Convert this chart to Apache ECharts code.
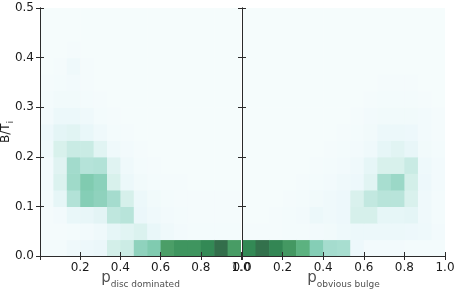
<!DOCTYPE html>
<html>
<head>
<meta charset="utf-8">
<script src="https://cdn.jsdelivr.net/npm/echarts@6/dist/echarts.min.js"></script>
<style>html,body{margin:0;padding:0;background:#fff}#c{width:455px;height:290px}</style>
</head>
<body>
<div id="c"></div>
<script>
// 2D histogram: 15 x-bins over [0,1], 15 y-bins over [0,0.5]; rows listed from bottom (B/T=0) upward
const xRange = [0, 1];
const yRange = [0, 0.5];
const nBinsX = 15;
const nBinsY = 15;
const xTickLabels = ['0.0', '0.2', '0.4', '0.6', '0.8', '1.0'];
const yTickLabels = ['0.0', '0.1', '0.2', '0.3', '0.4', '0.5'];

// relative density (colour scale 0..100), panel 1: p_disc dominated
const discRows = [
  [5, 5, 8, 10, 12, 26, 28, 47, 52, 77, 82, 82, 88, 98, 78],
  [4, 4, 5, 6, 8, 15, 18, 22, 13, 8, 6, 5, 5, 5, 5],
  [4, 6, 13, 14, 17, 32, 34, 12, 8, 6, 5, 4, 4, 4, 4],
  [5, 15, 36, 50, 47, 40, 25, 11, 7, 5, 4, 4, 4, 4, 4],
  [6, 22, 42, 52, 48, 24, 11, 7, 5, 4, 4, 3, 3, 3, 3],
  [6, 19, 41, 35, 36, 19, 8, 5, 4, 3, 3, 3, 3, 3, 3],
  [8, 24, 29, 29, 18, 8, 6, 4, 3, 3, 3, 3, 3, 3, 3],
  [10, 16, 18, 13, 8, 5, 4, 3, 3, 3, 3, 3, 3, 3, 3],
  [6, 11, 11, 8, 5, 4, 3, 3, 3, 3, 3, 3, 3, 3, 3],
  [5, 7, 7, 5, 4, 3, 3, 3, 3, 3, 3, 3, 3, 3, 3],
  [4, 5, 6, 4, 3, 3, 3, 3, 3, 3, 3, 3, 3, 3, 3],
  [3, 4, 8, 4, 3, 3, 3, 3, 3, 3, 3, 3, 3, 3, 3],
  [3, 3, 4, 3, 3, 3, 3, 3, 3, 3, 3, 3, 3, 3, 3],
  [3, 3, 3, 3, 3, 3, 3, 3, 3, 3, 3, 3, 3, 3, 3],
  [3, 3, 3, 3, 3, 3, 3, 3, 3, 3, 3, 3, 3, 3, 3]
];

// panel 2: p_obvious bulge
const bulgeRows = [
  [88, 97, 89, 80, 68, 50, 40, 39, 10, 6, 6, 6, 5, 5, 5],
  [4, 4, 4, 5, 5, 6, 7, 9, 11, 11, 11, 11, 10, 9, 6],
  [3, 3, 4, 5, 6, 11, 8, 10, 25, 25, 15, 15, 16, 8, 5],
  [3, 3, 3, 4, 5, 7, 8, 10, 23, 31, 34, 34, 23, 8, 5],
  [3, 3, 3, 3, 4, 5, 6, 8, 10, 18, 39, 43, 26, 10, 6],
  [3, 3, 3, 3, 3, 4, 5, 6, 8, 15, 24, 24, 29, 9, 6],
  [3, 3, 3, 3, 3, 3, 4, 5, 6, 8, 15, 18, 14, 7, 5],
  [3, 3, 3, 3, 3, 3, 3, 4, 5, 7, 11, 11, 10, 6, 4],
  [3, 3, 3, 3, 3, 3, 3, 3, 4, 6, 7, 7, 7, 6, 4],
  [3, 3, 3, 3, 3, 3, 3, 3, 3, 4, 5, 5, 5, 4, 3],
  [3, 3, 3, 3, 3, 3, 3, 3, 3, 3, 4, 4, 4, 3, 3],
  [3, 3, 3, 3, 3, 3, 3, 3, 3, 3, 3, 3, 3, 3, 3],
  [3, 3, 3, 3, 3, 3, 3, 3, 3, 3, 3, 3, 3, 3, 3],
  [3, 3, 3, 3, 3, 3, 3, 3, 3, 3, 3, 3, 3, 3, 3],
  [3, 3, 3, 3, 3, 3, 3, 3, 3, 3, 3, 3, 3, 3, 3]
];

const dx = (xRange[1] - xRange[0]) / nBinsX;
const dy = (yRange[1] - yRange[0]) / nBinsY;

function toCells(rows) {
  const out = [];
  rows.forEach((row, j) => row.forEach((v, i) => {
    out.push([xRange[0] + i * dx, yRange[0] + j * dy, v]);
  }));
  return out;
}

function renderCell(params, api) {
  const p0 = api.coord([api.value(0), api.value(1)]);
  const p1 = api.coord([api.value(0) + dx, api.value(1) + dy]);
  return {
    type: 'rect',
    shape: { x: p0[0], y: p1[1], width: p1[0] - p0[0] + 0.6, height: p0[1] - p1[1] + 0.6 },
    style: { fill: api.visual('color') }
  };
}

const FONT = 'DejaVu Sans';
const axisLine = { show: true, lineStyle: { color: '#2b2b2b', width: 1 } };
const tick = { show: true, inside: true, length: 4, lineStyle: { color: '#2b2b2b', width: 1 } };
const fmt = v => v.toFixed(1);

function xAx(grid, pos, labels, name, hideMin) {
  return {
    type: 'value', gridIndex: grid, position: pos, min: xRange[0], max: xRange[1], interval: 0.2,
    axisLine, axisTick: tick, splitLine: { show: false }, z: 10,
    axisLabel: { show: labels, formatter: fmt, color: '#1a1a1a', fontFamily: FONT, fontSize: 12, margin: 6,
      showMinLabel: !hideMin, showMaxLabel: true },
    name: name || '', nameLocation: 'middle', nameGap: 15, nameMoveOverlap: false,
    nameTextStyle: { rich: {
      p: { fontFamily: FONT, fontSize: 15, color: '#505050', verticalAlign: 'bottom' },
      s: { fontFamily: FONT, fontSize: 9, color: '#505050', verticalAlign: 'bottom', padding: [0, 0, -3, 0] }
    } }
  };
}
function yAx(grid, pos, labels, name) {
  return {
    type: 'value', gridIndex: grid, position: pos, min: yRange[0], max: yRange[1], interval: 0.1,
    axisLine, axisTick: tick, splitLine: { show: false }, z: 10,
    axisLabel: { show: labels, formatter: fmt, color: '#1a1a1a', fontFamily: FONT, fontSize: 12, margin: 6 },
    name: name || '', nameLocation: 'middle', nameGap: 28, nameRotate: 90, nameMoveOverlap: false,
    nameTextStyle: { rich: {
      a: { fontFamily: FONT, fontSize: 12, color: '#1a1a1a', verticalAlign: 'bottom' },
      b: { fontFamily: FONT, fontSize: 8, color: '#1a1a1a', verticalAlign: 'bottom', padding: [0, 0, -3, 0] }
    } }
  };
}

const chart = echarts.init(document.getElementById('c'), null, { renderer: 'canvas' });
chart.setOption({
  backgroundColor: '#ffffff',
  animation: false,
  grid: [
    { left: 40, top: 8, width: 201, height: 248, containLabel: false, outerBoundsMode: 'none' },
    { left: 242, top: 8, width: 203, height: 248, containLabel: false, outerBoundsMode: 'none' }
  ],
  xAxis: [
    xAx(0, 'bottom', true, '{p|p}{s|disc dominated}', true),
    xAx(0, 'top', false),
    xAx(1, 'bottom', true, '{p|p}{s|obvious bulge}', false),
    xAx(1, 'top', false)
  ],
  yAxis: [
    yAx(0, 'left', true, '{a|B/T}{b|i}'),
    yAx(0, 'right', false),
    yAx(1, 'left', false),
    yAx(1, 'right', false)
  ],
  visualMap: {
    show: false, type: 'continuous', min: 0, max: 100, dimension: 2, seriesIndex: [0, 1],
    inRange: { color: ['#f9fdfd', '#eaf7fa', '#d6f0eb', '#ade0d4', '#85ceb6', '#67be91', '#4fa26a', '#338a56', '#336949'] }
  },
  series: [
    { type: 'custom', xAxisIndex: 0, yAxisIndex: 0, clip: true, data: toCells(discRows), renderItem: renderCell, z: 2 },
    { type: 'custom', xAxisIndex: 2, yAxisIndex: 2, clip: true, data: toCells(bulgeRows), renderItem: renderCell, z: 2 }
  ]
});
</script>
</body>
</html>
